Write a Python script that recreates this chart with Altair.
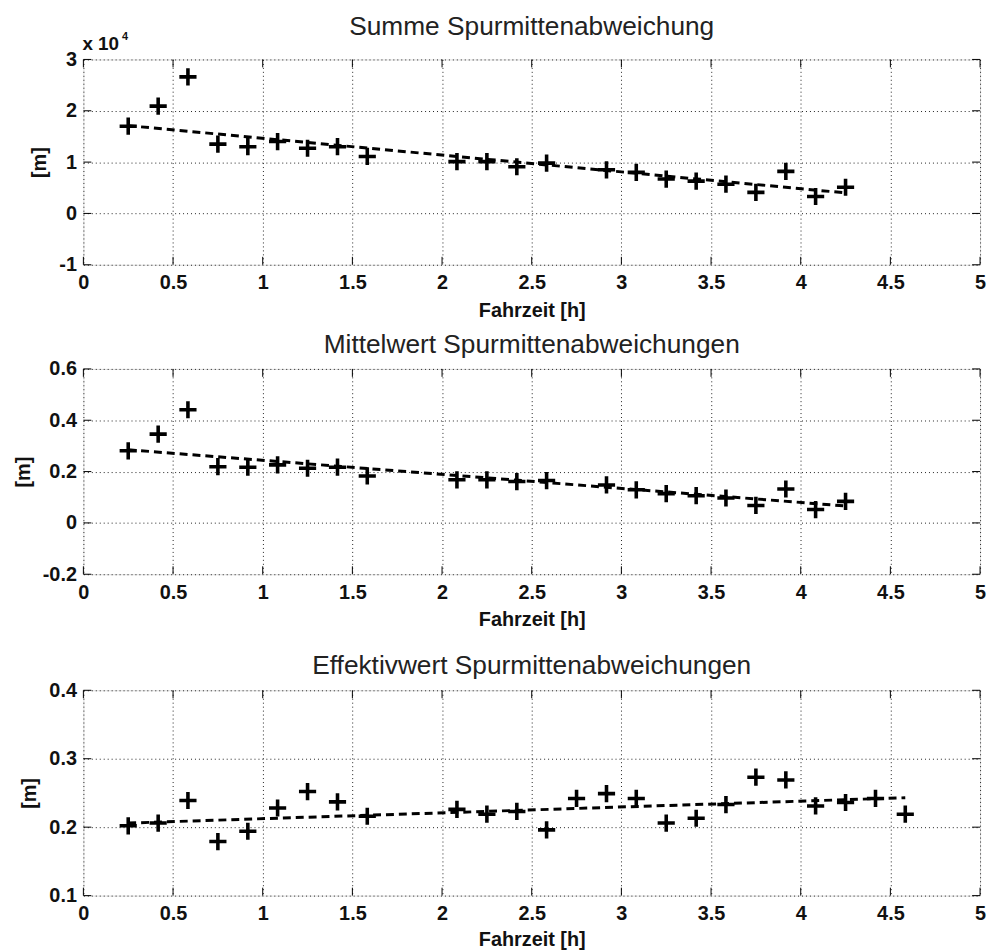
import altair as alt
import pandas as pd

# ---------------- data ----------------
x_ticks = [0, 0.5, 1, 1.5, 2, 2.5, 3, 3.5, 4, 4.5, 5]

# Panel 1: Summe Spurmittenabweichung [m]
x_sum = [0.25, 0.417, 0.583, 0.75, 0.917, 1.083, 1.25, 1.417, 1.583, 2.083, 2.25,
         2.417, 2.583, 2.917, 3.083, 3.25, 3.417, 3.583, 3.75, 3.917, 4.083, 4.25]
y_sum = [17000, 20900, 26600, 13500, 13000, 14000, 12700, 13000, 11100, 10100, 10100,
         9100, 9800, 8500, 8000, 6700, 6300, 5700, 4100, 8200, 3300, 5100]
trend_sum_x = [0.25, 4.25]
trend_sum_y = [17100, 4000]
y_ticks_sum = [-10000, 0, 10000, 20000, 30000]

# Panel 2: Mittelwert Spurmittenabweichungen [m]
x_mean = x_sum
y_mean = [0.281, 0.346, 0.441, 0.219, 0.217, 0.226, 0.213, 0.217, 0.183, 0.168, 0.168,
          0.161, 0.165, 0.148, 0.129, 0.114, 0.106, 0.097, 0.068, 0.132, 0.052, 0.084]
trend_mean_x = [0.25, 4.25]
trend_mean_y = [0.285, 0.066]
y_ticks_mean = [-0.2, 0, 0.2, 0.4, 0.6]

# Panel 3: Effektivwert Spurmittenabweichungen [m]
x_rms = [0.25, 0.417, 0.583, 0.75, 0.917, 1.083, 1.25, 1.417, 1.583, 2.083, 2.25,
         2.417, 2.583, 2.75, 2.917, 3.083, 3.25, 3.417, 3.583, 3.75, 3.917, 4.083,
         4.25, 4.417, 4.583]
y_rms = [0.202, 0.206, 0.239, 0.179, 0.194, 0.228, 0.252, 0.237, 0.216, 0.226, 0.219,
         0.223, 0.196, 0.242, 0.249, 0.242, 0.206, 0.213, 0.233, 0.273, 0.269, 0.231,
         0.236, 0.242, 0.219]
trend_rms_x = [0.25, 4.583]
trend_rms_y = [0.206, 0.243]
y_ticks_rms = [0.1, 0.2, 0.3, 0.4]

# ---------------- style ----------------
FONT = "Liberation Sans"
W, H = 904, 207
TICK = 8
PLUS = "M -1 0 L 1 0 M 0 -1 L 0 1"


def panel(title, xs, ys, tx, ty, ydomain, yticks, ylabel_expr, title_offset,
          xtitle_pad=8, extra=None):
    pts = pd.DataFrame({"x": xs, "y": ys})
    trend = pd.DataFrame({"x": tx, "y": ty})
    xt = pd.DataFrame({"x": x_ticks})
    yt = pd.DataFrame({"y": yticks})

    xscale = alt.Scale(domain=[0, 5], nice=False, zero=False)
    yscale = alt.Scale(domain=ydomain, nice=False, zero=False)
    axis_common = dict(
        domain=False, ticks=False, grid=True,
        gridColor="#222", gridDash=[1, 3], gridWidth=1, gridOpacity=1,
        labelFont=FONT, labelFontSize=20, labelFontWeight="bold", labelColor="#111",
        titleFont=FONT, titleFontSize=20, titleFontWeight="bold", titleColor="#111",
    )
    X = alt.X("x:Q", scale=xscale,
              axis=alt.Axis(values=x_ticks, title="Fahrzeit [h]",
                            labelExpr="'' + datum.value", labelPadding=8,
                            titlePadding=xtitle_pad, labelFlush=False, **axis_common))
    Y = alt.Y("y:Q", scale=yscale,
              axis=alt.Axis(values=yticks, title="[m]", labelExpr=ylabel_expr,
                            labelPadding=7, titlePadding=9, labelFlush=False,
                            **axis_common))

    points = alt.Chart(pts).mark_point(
        shape=PLUS, size=300, strokeWidth=3.6, color="black", filled=False, opacity=1
    ).encode(x=X, y=Y)
    line = alt.Chart(trend).mark_line(
        color="black", strokeWidth=3, strokeDash=[8, 5]
    ).encode(x=X, y=Y)

    tick_style = dict(color="black", strokeWidth=1)
    xt_top = alt.Chart(xt).mark_rule(**tick_style).encode(
        x=X, y=alt.value(0), y2=alt.value(TICK))
    xt_bot = alt.Chart(xt).mark_rule(**tick_style).encode(
        x=X, y=alt.value(H - TICK), y2=alt.value(H))
    yt_left = alt.Chart(yt).mark_rule(**tick_style).encode(
        y=Y, x=alt.value(0), x2=alt.value(TICK))
    yt_right = alt.Chart(yt).mark_rule(**tick_style).encode(
        y=Y, x=alt.value(W - TICK), x2=alt.value(W))

    layers = [xt_top, xt_bot, yt_left, yt_right, line, points]
    if extra:
        layers += extra
    return alt.layer(*layers).properties(
        width=W, height=H,
        title=alt.TitleParams(text=title, font=FONT, fontSize=26.5, fontWeight="normal",
                              color="#222", offset=title_offset, anchor="middle"),
    )


exp_text = alt.Chart(pd.DataFrame({"t": ["x 10"]})).mark_text(
    font=FONT, fontSize=19, fontWeight="bold", color="#111", align="left", baseline="middle"
).encode(text="t:N", x=alt.value(-1), y=alt.value(-16))
exp_sup = alt.Chart(pd.DataFrame({"t": ["4"]})).mark_text(
    font=FONT, fontSize=11, fontWeight="bold", color="#111", align="left", baseline="middle"
).encode(text="t:N", x=alt.value(39), y=alt.value(-23))

p1 = panel("Summe Spurmittenabweichung", x_sum, y_sum, trend_sum_x, trend_sum_y,
           [-10000, 30000], y_ticks_sum, "'' + (datum.value / 10000)", -10,
           extra=[exp_text, exp_sup])
p2 = panel("Mittelwert Spurmittenabweichungen", x_mean, y_mean, trend_mean_x, trend_mean_y,
           [-0.2, 0.6], y_ticks_mean, "'' + datum.value", 1)
p3 = panel("Effektivwert Spurmittenabweichungen", x_rms, y_rms, trend_rms_x, trend_rms_y,
           [0.1, 0.4], y_ticks_rms, "'' + datum.value", 1, xtitle_pad=6)

chart = alt.vconcat(
    alt.vconcat(p1, p2, spacing=10),
    p3,
    spacing=22,
).properties(
    padding={"left": 5, "top": 2, "right": 0, "bottom": 0}
).configure_view(
    stroke="black", strokeWidth=1.5
).configure(background="white")

chart.save("out.html", embed_options={"renderer": "svg", "actions": False})
